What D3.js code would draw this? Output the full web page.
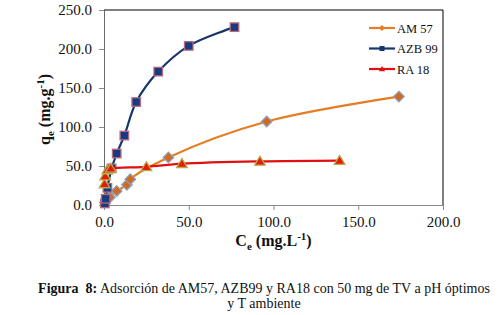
<!DOCTYPE html>
<html>
<head>
<meta charset="utf-8">
<script src="https://cdn.jsdelivr.net/npm/d3@7"></script>
<style>
  body { margin: 0; background: #fff; }
  svg text { font-family: "Liberation Serif", "Times New Roman", Times, "DejaVu Serif", serif !important; }
</style>
</head>
<body>
<div id="chart"></div>
<script>
const width = 499,
    height = 315;

// series
const am57_x = [0.5, 3.5, 7.5, 13.5, 15.5, 38, 96, 174],
    am57_y = [3, 10, 18, 26, 33, 61, 107, 139];

const azb99_x = [0.5, 1.0, 2.0, 4.5, 7.5, 12, 19, 32, 50, 77],
    azb99_y = [2, 8, 22, 47, 66, 89, 132, 171, 204, 228];

const ra18_x = [0.3, 0.7, 2.0, 4.0, 25, 46, 92, 139],
    ra18_y = [27, 37, 45, 47, 49, 53, 56, 57];

const xTicks = [0, 50, 100, 150, 200],
    yTicks = [0, 50, 100, 150, 200, 250];

const seriesNames = ["AM 57", "AZB 99", "RA 18"];

const margin = {top: 10, right: 56, bottom: 110, left: 104};

let xScale = d3.scaleLinear()
    .domain([0, 200])
    .range([margin.left, width - margin.right]);

let yScale = d3.scaleLinear()
    .domain([0, 250])
    .range([height - margin.bottom, margin.top]);

const svg = d3.select("#chart")
    .append("svg")
    .attr("width", width)
    .attr("height", height);

const series = [
    {name: seriesNames[0], xs: am57_x, ys: am57_y, line: "#e47d24", shape: "diamond", fill: "#d2691e", stroke: "#8da0bd"},
    {name: seriesNames[1], xs: azb99_x, ys: azb99_y, line: "#17366a", shape: "square", fill: "#163b86", stroke: "#b56a7a"},
    {name: seriesNames[2], xs: ra18_x, ys: ra18_y, line: "#e01010", shape: "triangle", fill: "#e41a0a", stroke: "#b8ab4a"}
];

// axes
let xAxis = d3.axisBottom(xScale)
    .tickValues(xTicks)
    .tickFormat(d3.format(".1f"))
    .tickSize(5)
    .tickSizeOuter(0);

let yAxis = d3.axisLeft(yScale)
    .tickValues(yTicks)
    .tickFormat(d3.format(".1f"))
    .tickSize(5)
    .tickSizeOuter(0);

let gx = svg.append("g")
    .attr("transform", `translate(0,${yScale(0)})`)
    .call(xAxis)
    .attr("font-family", null);
gx.select(".domain").attr("stroke", "#8a8a8a");
gx.selectAll(".tick line").attr("stroke", "#8a8a8a");
gx.selectAll(".tick text")
    .attr("font-size", 15)
    .attr("fill", "#111")
    .attr("dy", "0.95em");

let gy = svg.append("g")
    .attr("transform", `translate(${xScale(0)},0)`)
    .call(yAxis)
    .attr("font-family", null);
gy.select(".domain").attr("stroke", "#6a6a6a");
gy.selectAll(".tick line").attr("stroke", "#8a8a8a");
gy.selectAll(".tick text")
    .attr("font-size", 15)
    .attr("fill", "#111")
    .attr("x", -12);

// top and right border
svg.append("path")
    .attr("fill", "none")
    .attr("stroke", "#000")
    .attr("stroke-width", 1)
    .attr("d", `M${xScale(0)},${yScale(250)}H${xScale(200)}V${yScale(0)}`);

// lines
let line = d3.line()
    .x(d => xScale(d[0]))
    .y(d => yScale(d[1]))
    .curve(d3.curveCatmullRom.alpha(0.5));

function marker(sel, s, size) {
    if (s.shape === "square") {
        sel.append("rect")
            .attr("x", -size / 2).attr("y", -size / 2)
            .attr("width", size).attr("height", size);
    } else if (s.shape === "diamond") {
        let r = size * 0.62;
        sel.append("path").attr("d", `M0,${-r}L${r},0L0,${r}L${-r},0Z`);
    } else {
        let r = size * 0.6;
        sel.append("path").attr("d", `M0,${-r}L${r * 1.05},${r * 0.75}L${-r * 1.05},${r * 0.75}Z`);
    }
}

series.forEach(s => {
    let pts = s.xs.map((x, i) => [x, s.ys[i]]);
    svg.append("path")
        .datum(pts)
        .attr("fill", "none")
        .attr("stroke", s.line)
        .attr("stroke-width", 2.2)
        .attr("d", line);

    svg.append("g")
        .selectAll("g")
        .data(pts)
        .join("g")
        .attr("transform", d => `translate(${xScale(d[0])},${yScale(d[1])})`)
        .each(function () { marker(d3.select(this), s, 8.5); })
        .selectAll("rect,path")
        .attr("fill", s.fill)
        .attr("stroke", s.stroke)
        .attr("stroke-width", 1.3);
});

// legend
let legend = svg.append("g")
    .attr("transform", "translate(369,28)");

series.forEach((s, i) => {
    let row = legend.append("g").attr("transform", `translate(0,${i * 20.5})`);
    row.append("line")
        .attr("x1", 0).attr("x2", 26)
        .attr("stroke", s.line)
        .attr("stroke-width", 2.2);
    let m = row.append("g").attr("transform", "translate(13,0)");
    marker(m, s, 5);
    m.selectAll("rect,path").attr("fill", s.line).attr("stroke", "none");
    row.append("text")
        .attr("x", 28)
        .attr("y", 4.5)
        .attr("font-size", 12.5)
        .attr("fill", "#111")
        .text(s.name);
});

// axis titles
let yTitle = svg.append("text")
    .attr("transform", `translate(50,${(yScale(0) + yScale(250)) / 2 + 2}) rotate(-90)`)
    .attr("text-anchor", "middle")
    .attr("font-size", 16)
    .attr("font-weight", "bold")
    .attr("fill", "#111");
yTitle.append("tspan").text("q");
yTitle.append("tspan").attr("font-size", 11).attr("dy", 4).text("e");
yTitle.append("tspan").attr("dy", -4).text(" (mg.g");
yTitle.append("tspan").attr("font-size", 11).attr("dy", -6).text("-1");
yTitle.append("tspan").attr("dy", 6).text(")");

let xTitle = svg.append("text")
    .attr("x", (xScale(0) + xScale(200)) / 2)
    .attr("y", 246)
    .attr("text-anchor", "middle")
    .attr("font-size", 16)
    .attr("font-weight", "bold")
    .attr("fill", "#111");
xTitle.append("tspan").text("C");
xTitle.append("tspan").attr("font-size", 11).attr("dy", 4).text("e");
xTitle.append("tspan").attr("dy", -4).text(" (mg.L");
xTitle.append("tspan").attr("font-size", 11).attr("dy", -6).text("-1");
xTitle.append("tspan").attr("dy", 6).text(")");

// caption
let cap = svg.append("text")
    .attr("x", 264)
    .attr("y", 293)
    .attr("text-anchor", "middle")
    .attr("font-size", 14)
    .attr("fill", "#111");
cap.append("tspan").attr("font-weight", "bold").text("Figura\u00a0 8:");
cap.append("tspan").text(" Adsorción de AM57, AZB99 y RA18 con 50 mg de TV a pH óptimos");

svg.append("text")
    .attr("x", 264)
    .attr("y", 308)
    .attr("text-anchor", "middle")
    .attr("font-size", 14)
    .attr("fill", "#111")
    .text("y T ambiente");
</script>
</body>
</html>
